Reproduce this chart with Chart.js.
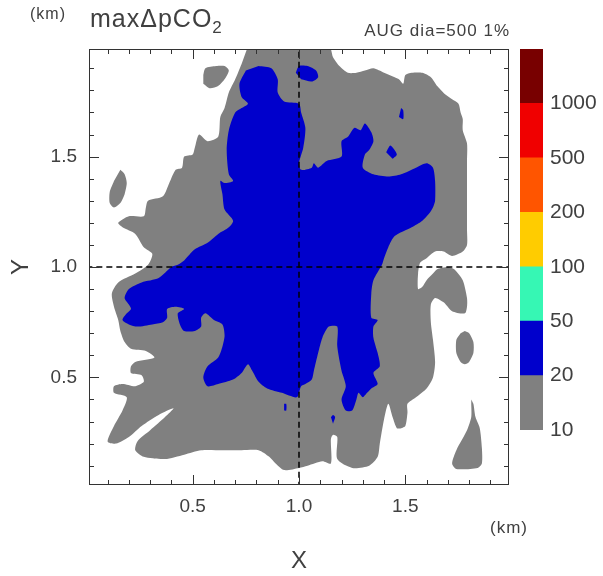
<!DOCTYPE html>
<html>
<head>
<meta charset="utf-8">
<script src="https://cdn.jsdelivr.net/npm/chart.js@4.4.1/dist/chart.umd.min.js"></script>
<style>
  html, body { margin: 0; padding: 0; background: #fff; }
  #wrap { position: relative; width: 603px; height: 576px; }
  #field { position: absolute; left: 0; top: 0; }
  #scale { position: absolute; left: 505px; top: 0; }
</style>
</head>
<body>
<div id="wrap">
  <canvas id="field" width="603" height="576"></canvas>
  <canvas id="scale" width="98" height="576"></canvas>
</div>
<script>
// contour levels of max dpCO2 and the colour of each band
const levels = ['10', '20', '50', '100', '200', '500', '1000'];
const levelColors = ['#808080', '#0000cc', '#36f7b4', '#ffcc00', '#ff5500', '#f00000', '#780000'];

const xTicks = [0.5, 1.0, 1.5];
const yTicks = [0.5, 1.0, 1.5];
const centre = 1.0;

// 10-20 band outline, [x km, y km]
const grayMain = [
  [0.76, 2.0], [1.14, 2.0], [1.16, 1.95], [1.19, 1.91], [1.23, 1.88], [1.27, 1.88], [1.31, 1.89],
  [1.35, 1.90], [1.40, 1.88], [1.45, 1.86], [1.47, 1.85], [1.49, 1.83], [1.50, 1.87], [1.53, 1.88],
  [1.58, 1.88], [1.62, 1.86], [1.65, 1.82], [1.69, 1.78], [1.72, 1.76], [1.75, 1.74], [1.76, 1.70],
  [1.77, 1.67], [1.77, 1.62], [1.79, 1.56], [1.79, 1.48], [1.79, 1.39], [1.79, 1.27], [1.79, 1.17],
  [1.79, 1.10], [1.77, 1.07], [1.72, 1.05], [1.68, 1.07], [1.64, 1.07], [1.60, 1.04], [1.57, 1.02],
  [1.56, 0.97], [1.56, 0.90], [1.58, 0.91], [1.60, 0.94], [1.63, 0.97], [1.65, 0.99], [1.70, 1.00],
  [1.73, 0.99], [1.77, 0.94], [1.79, 0.86], [1.79, 0.82], [1.78, 0.79], [1.72, 0.80], [1.68, 0.84],
  [1.64, 0.86], [1.62, 0.83], [1.62, 0.75], [1.63, 0.67], [1.64, 0.57], [1.63, 0.50], [1.60, 0.45],
  [1.55, 0.41], [1.51, 0.38], [1.51, 0.34], [1.50, 0.28], [1.48, 0.27], [1.46, 0.27], [1.44, 0.32],
  [1.42, 0.38], [1.40, 0.31], [1.38, 0.20], [1.37, 0.14], [1.33, 0.10], [1.25, 0.09], [1.18, 0.13],
  [1.18, 0.23], [1.16, 0.24], [1.15, 0.22], [1.15, 0.11], [1.11, 0.12], [1.04, 0.10], [1.00, 0.09],
  [0.93, 0.08], [0.89, 0.11], [0.86, 0.14], [0.81, 0.17], [0.73, 0.17], [0.64, 0.17], [0.54, 0.17],
  [0.46, 0.15], [0.37, 0.13], [0.27, 0.14], [0.23, 0.17], [0.24, 0.21], [0.30, 0.26], [0.37, 0.32],
  [0.41, 0.36], [0.34, 0.33], [0.26, 0.28], [0.20, 0.23], [0.14, 0.20], [0.10, 0.21], [0.13, 0.28],
  [0.17, 0.35], [0.19, 0.41], [0.13, 0.43], [0.13, 0.46], [0.17, 0.47], [0.23, 0.46], [0.27, 0.48],
  [0.26, 0.51], [0.21, 0.52], [0.21, 0.55], [0.23, 0.57], [0.32, 0.59], [0.28, 0.62], [0.21, 0.63],
  [0.18, 0.66], [0.16, 0.71], [0.15, 0.76], [0.13, 0.82], [0.12, 0.88], [0.15, 0.93], [0.23, 0.97],
  [0.29, 1.01], [0.31, 1.06], [0.27, 1.09], [0.23, 1.15], [0.17, 1.18], [0.15, 1.20], [0.20, 1.23],
  [0.27, 1.23], [0.28, 1.27], [0.29, 1.30], [0.36, 1.32], [0.39, 1.38], [0.42, 1.44], [0.45, 1.45],
  [0.46, 1.50], [0.50, 1.51], [0.51, 1.54], [0.53, 1.60], [0.57, 1.57], [0.62, 1.59], [0.63, 1.68],
  [0.65, 1.72], [0.67, 1.79], [0.70, 1.85], [0.73, 1.92]
];

const grayIslands = [
  [[0.55, 1.87], [0.56, 1.90], [0.61, 1.91], [0.65, 1.91], [0.67, 1.89], [0.65, 1.85], [0.62, 1.82], [0.58, 1.81], [0.55, 1.83]],
  [[0.16, 1.44], [0.18, 1.42], [0.19, 1.38], [0.18, 1.33], [0.16, 1.29], [0.13, 1.27], [0.11, 1.29], [0.11, 1.34], [0.13, 1.39]],
  [[1.78, 0.71], [1.80, 0.70], [1.82, 0.66], [1.82, 0.61], [1.80, 0.57], [1.78, 0.56], [1.76, 0.57], [1.74, 0.61], [1.74, 0.67], [1.76, 0.70]],
  [[1.81, 0.40], [1.82, 0.38], [1.83, 0.32], [1.85, 0.27], [1.86, 0.18], [1.86, 0.11], [1.84, 0.09], [1.74, 0.085], [1.72, 0.11],
   [1.74, 0.17], [1.79, 0.26], [1.81, 0.32], [1.81, 0.38]]
];

// 20-50 band outline
const blueMain = [
  [0.81, 1.91], [0.87, 1.90], [0.90, 1.85], [0.90, 1.79], [0.93, 1.75], [1.00, 1.74], [1.01, 1.70],
  [1.03, 1.63], [1.02, 1.54], [1.00, 1.47], [1.01, 1.44], [1.06, 1.45], [1.07, 1.47], [1.09, 1.45],
  [1.13, 1.48], [1.20, 1.50], [1.20, 1.57], [1.23, 1.59], [1.26, 1.63], [1.29, 1.62], [1.31, 1.65],
  [1.34, 1.61], [1.35, 1.57], [1.33, 1.53], [1.31, 1.51], [1.30, 1.45], [1.35, 1.42], [1.42, 1.41],
  [1.48, 1.42], [1.55, 1.45], [1.60, 1.47], [1.63, 1.45], [1.64, 1.39], [1.64, 1.30], [1.63, 1.27],
  [1.61, 1.24], [1.58, 1.21], [1.53, 1.18], [1.45, 1.14], [1.42, 1.09], [1.40, 1.04], [1.39, 1.01],
  [1.35, 0.94], [1.34, 0.88], [1.34, 0.77], [1.37, 0.76], [1.35, 0.73], [1.35, 0.68], [1.37, 0.61],
  [1.38, 0.55], [1.35, 0.52], [1.37, 0.47], [1.34, 0.45], [1.32, 0.43], [1.30, 0.41], [1.28, 0.43],
  [1.27, 0.40], [1.25, 0.35], [1.22, 0.35], [1.20, 0.40], [1.22, 0.46], [1.20, 0.53], [1.18, 0.64],
  [1.18, 0.73], [1.14, 0.73], [1.11, 0.68], [1.09, 0.61], [1.07, 0.53], [1.06, 0.49], [1.03, 0.47],
  [1.01, 0.46], [0.99, 0.41], [0.92, 0.43], [0.85, 0.45], [0.81, 0.48], [0.78, 0.53], [0.76, 0.56],
  [0.73, 0.52], [0.69, 0.49], [0.62, 0.47], [0.57, 0.46], [0.55, 0.50], [0.57, 0.55], [0.62, 0.59],
  [0.64, 0.64], [0.65, 0.69], [0.64, 0.74], [0.60, 0.76], [0.56, 0.79], [0.54, 0.77], [0.54, 0.73],
  [0.51, 0.71], [0.46, 0.71], [0.44, 0.74], [0.43, 0.79], [0.46, 0.81], [0.42, 0.82], [0.38, 0.81],
  [0.38, 0.77], [0.36, 0.75], [0.31, 0.74], [0.24, 0.73], [0.20, 0.74], [0.17, 0.76], [0.19, 0.79],
  [0.21, 0.81], [0.20, 0.83], [0.18, 0.86], [0.20, 0.90], [0.26, 0.93], [0.34, 0.95], [0.40, 1.00],
  [0.43, 1.01], [0.46, 1.03], [0.51, 1.08], [0.57, 1.11], [0.62, 1.15], [0.67, 1.18], [0.69, 1.21],
  [0.65, 1.26], [0.64, 1.33], [0.63, 1.39], [0.65, 1.38], [0.69, 1.39], [0.67, 1.42], [0.66, 1.53],
  [0.67, 1.62], [0.70, 1.70], [0.73, 1.72], [0.76, 1.74], [0.73, 1.77], [0.72, 1.83], [0.75, 1.89]
];

const blueSpots = [
  [[0.985, 1.88], [1.00, 1.91], [1.04, 1.91], [1.08, 1.89], [1.09, 1.86], [1.06, 1.84], [1.01, 1.85]],
  [[1.41, 1.52], [1.43, 1.55], [1.46, 1.51], [1.44, 1.49]],
  [[1.48, 1.72], [1.49, 1.71], [1.49, 1.67], [1.47, 1.68]],
  [[1.15, 0.32], [1.16, 0.33], [1.17, 0.32], [1.16, 0.29]],
  [[0.93, 0.38], [0.94, 0.38], [0.94, 0.35], [0.93, 0.35]]
];

const textColor = '#404040';
const family = "'Liberation Sans', Arial, sans-serif";

function area(points, color, order) {
  return {
    data: points.map(([x, y]) => ({ x, y })),
    showLine: true,
    fill: 'shape',
    backgroundColor: color,
    borderColor: color,
    borderWidth: 0,
    pointRadius: 0,
    tension: 0.25,
    order: order,
  };
}

function centreLine(points) {
  return {
    data: points,
    showLine: true,
    borderColor: '#000',
    borderWidth: 1.5,
    borderDash: [6, 4],
    pointRadius: 0,
    fill: false,
    order: -1,
  };
}

const datasets = [
  centreLine([{ x: centre, y: 0 }, { x: centre, y: 2 }]),
  centreLine([{ x: 0, y: centre }, { x: 2, y: centre }]),
  ...blueSpots.map((p) => area(p, levelColors[1], 0)),
  area(blueMain, levelColors[1], 0),
  ...grayIslands.map((p) => area(p, levelColors[0], 1)),
  area(grayMain, levelColors[0], 1),
];

// frame, inward ticks every 0.1 km and the loose labels
const frame = {
  id: 'frame',
  afterDraw(chart) {
    const { ctx, chartArea: a, scales: { x, y } } = chart;
    ctx.save();
    ctx.strokeStyle = '#333';
    ctx.lineWidth = 1;
    ctx.strokeRect(a.left + 0.5, a.top + 0.5, a.right - a.left - 1, a.bottom - a.top - 1);
    ctx.beginPath();
    for (let i = 1; i < 20; i++) {
      const v = i / 10;
      const len = i % 5 === 0 ? 10 : 5;
      const px = Math.round(x.getPixelForValue(v)) + 0.5;
      ctx.moveTo(px, a.bottom); ctx.lineTo(px, a.bottom - len);
      ctx.moveTo(px, a.top); ctx.lineTo(px, a.top + len);
      const py = Math.round(y.getPixelForValue(v)) + 0.5;
      ctx.moveTo(a.left, py); ctx.lineTo(a.left + len, py);
      ctx.moveTo(a.right, py); ctx.lineTo(a.right - len, py);
    }
    ctx.stroke();

    ctx.fillStyle = textColor;
    ctx.textBaseline = 'alphabetic';
    ctx.textAlign = 'left';
    ctx.letterSpacing = '1px';
    ctx.font = '16px ' + family;
    ctx.fillText('(km)', 30, 19);
    ctx.font = '25px ' + family;
    ctx.fillText('max\u0394pCO', 90, 27);
    const w = ctx.measureText('max\u0394pCO').width;
    ctx.font = '17px ' + family;
    ctx.fillText('2', 90 + w, 33);
    ctx.textAlign = 'right';
    ctx.font = '17px ' + family;
    ctx.fillText('AUG dia=500 1%', a.right + 1, 36);
    ctx.textAlign = 'center';
    ctx.fillText('(km)', a.right, 533);
    ctx.restore();
  }
};

new Chart(document.getElementById('field'), {
  type: 'scatter',
  data: { datasets },
  options: {
    responsive: false,
    animation: false,
    events: [],
    layout: { padding: { top: 49, right: 94, bottom: 0, left: 0 } },
    plugins: { legend: { display: false }, tooltip: { enabled: false } },
    scales: {
      x: {
        type: 'linear',
        min: 0.0125,
        max: 1.9875,
        afterBuildTicks: (axis) => { axis.ticks = xTicks.map((v) => ({ value: v })); },
        afterFit: (axis) => { axis.height = 91; },
        grid: { display: false, drawTicks: false },
        border: { display: false },
        ticks: {
          padding: 10,
          color: textColor,
          font: { family, size: 19 },
          maxRotation: 0,
          autoSkip: false,
          callback: (v) => Number(v).toFixed(1),
        },
        title: { display: true, text: 'X', color: textColor, font: { family, size: 24 }, padding: { top: 0, bottom: 0 } },
      },
      y: {
        type: 'linear',
        min: 0.0125,
        max: 1.9875,
        afterBuildTicks: (axis) => { axis.ticks = yTicks.map((v) => ({ value: v })); },
        afterFit: (axis) => { axis.width = 89; },
        grid: { display: false, drawTicks: false },
        border: { display: false },
        ticks: {
          padding: 12,
          color: textColor,
          font: { family, size: 19 },
          autoSkip: false,
          callback: (v) => Number(v).toFixed(1),
        },
        title: { display: true, text: 'Y', color: textColor, font: { family, size: 24 }, padding: { top: 7, bottom: 0 } },
      },
    },
  },
  plugins: [frame],
});

// colour key: one stacked bar, one block per band
new Chart(document.getElementById('scale'), {
  type: 'bar',
  data: {
    labels: [''],
    datasets: levels.map((lv, i) => ({
      label: lv,
      data: [1],
      backgroundColor: levelColors[i],
      borderWidth: 0,
      barPercentage: 1,
      categoryPercentage: 1,
    })),
  },
  options: {
    responsive: false,
    animation: false,
    events: [],
    layout: { padding: { top: 49, right: 0, bottom: 146, left: 15 } },
    plugins: { legend: { display: false }, tooltip: { enabled: false } },
    scales: {
      x: { stacked: true, display: false },
      y: {
        stacked: true,
        position: 'right',
        min: 0,
        max: levels.length,
        afterBuildTicks: (axis) => { axis.ticks = levels.map((lv, i) => ({ value: i })); },
        afterFit: (axis) => { axis.width = 60; },
        grid: { display: false, drawTicks: false },
        border: { display: false },
        ticks: {
          padding: 7,
          color: textColor,
          font: { family, size: 21 },
          autoSkip: false,
          callback: (v) => levels[v],
        },
      },
    },
  },
});
</script>
</body>
</html>
